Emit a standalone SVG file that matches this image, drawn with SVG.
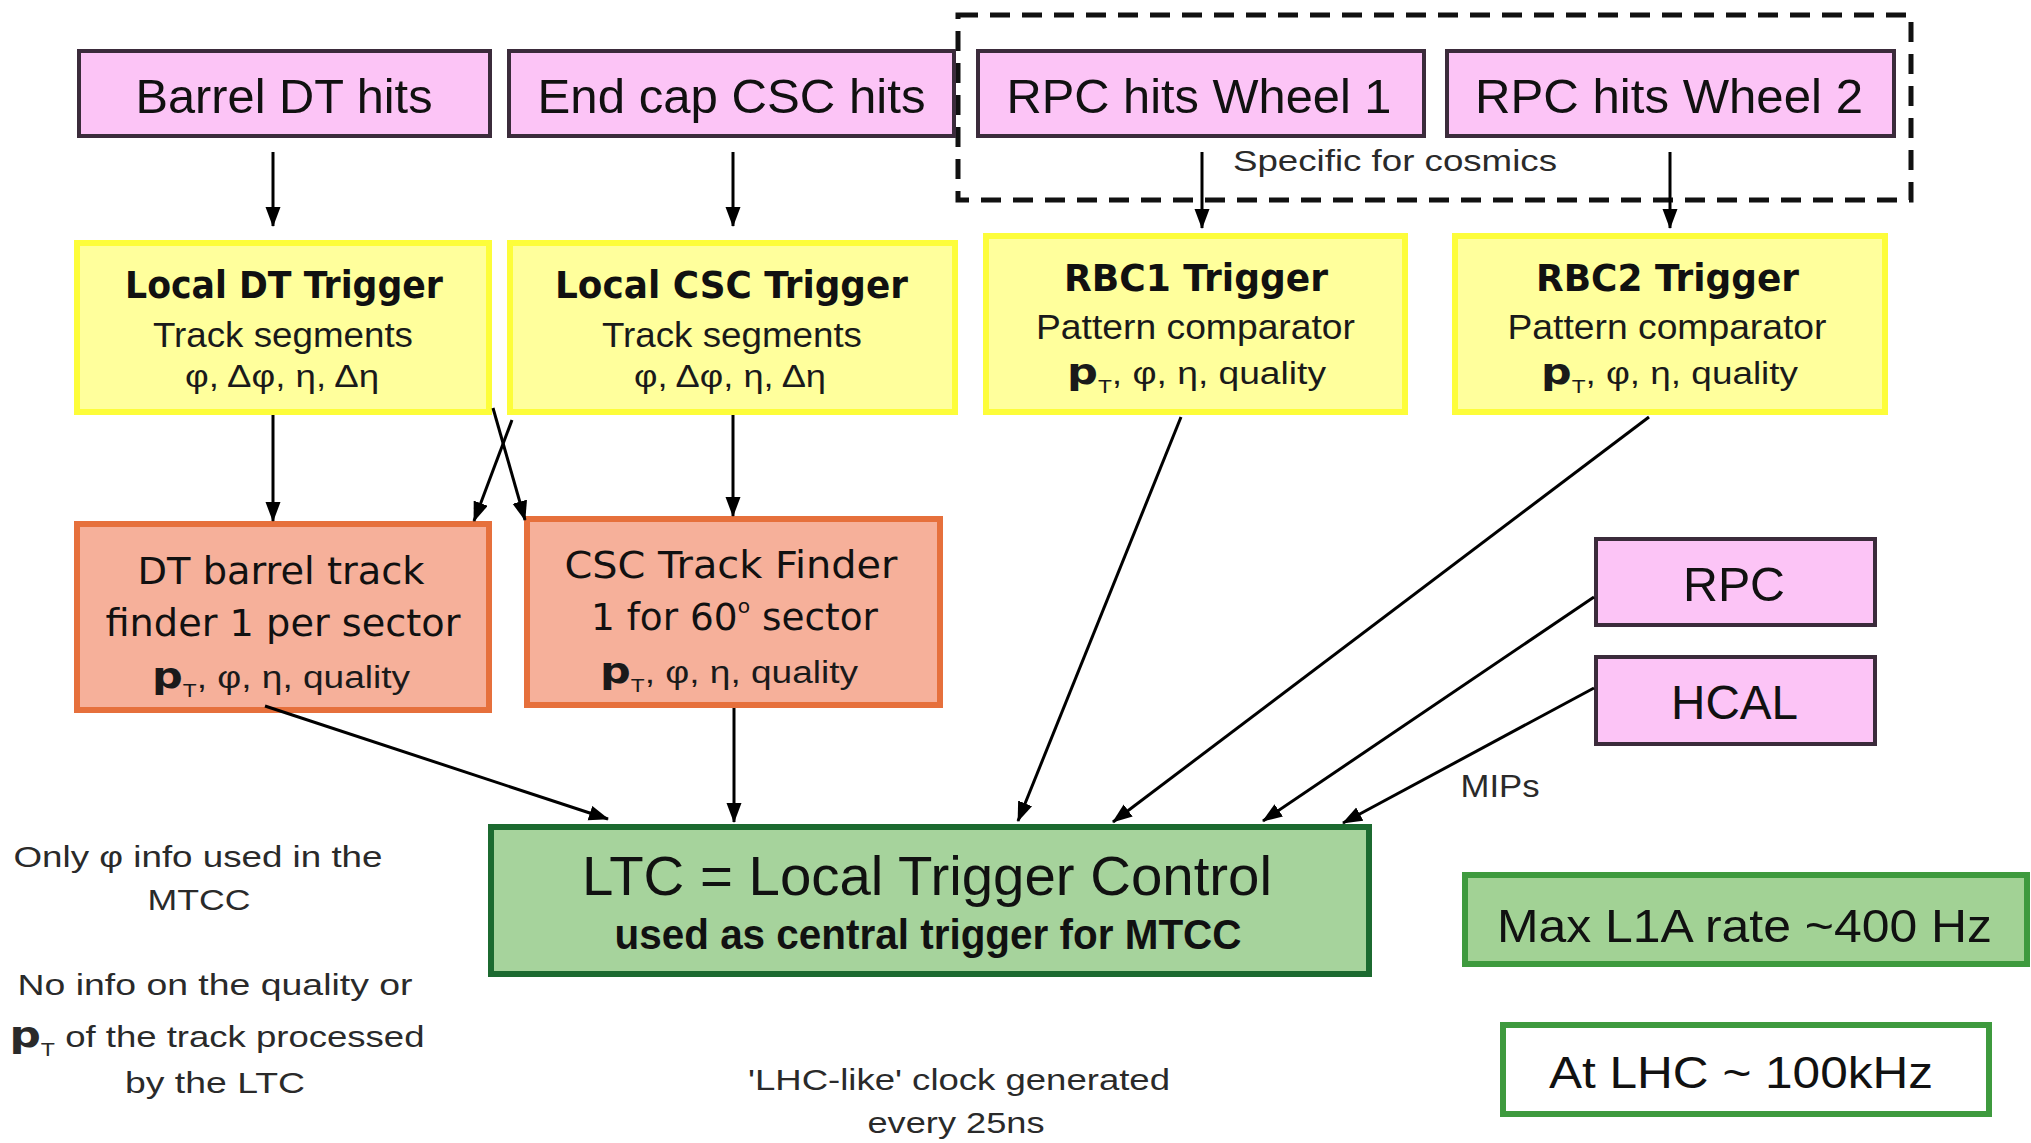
<svg xmlns="http://www.w3.org/2000/svg" width="2031" height="1143" viewBox="0 0 2031 1143">
  <style>
    .hits { fill: #fcc4f6; stroke: #3b2b3b; stroke-width: 4; }
    .lt { fill: #ffff9c; stroke: #fdfd3a; stroke-width: 6; }
    .tf { fill: #f6b09a; stroke: #e6703c; stroke-width: 6; }
    .ltc { fill: #a6d39c; stroke: #1c6a30; stroke-width: 6; }
    .rate { fill: #a2d295; stroke: #3e9a3e; stroke-width: 6; }
    .lhc { fill: #ffffff; stroke: #3e9a3e; stroke-width: 6; }
    .cosmic { fill: none; stroke: #111; stroke-width: 5; stroke-dasharray: 20 12; }
    text { fill: #111; text-anchor: middle; font-family: "Liberation Sans", Arial, sans-serif; }
    .big { font-size: 49px; }
    .ttl { font-family: "DejaVu Sans", Verdana, sans-serif; font-size: 37px; font-weight: bold; }
    .sub { font-size: 35px; fill: #1a1a1a; }
    .val { font-size: 31px; fill: #1a1a1a; }
    .fnd { font-family: "DejaVu Sans", Verdana, sans-serif; font-size: 37px; }
    .note { font-size: 30px; fill: #2a2a2a; }
    .pb { font-family: "DejaVu Sans", Verdana, sans-serif; font-weight: bold; font-size: 36px; }
    .ps { font-size: 19px; }
    .conn line { stroke: #000; stroke-width: 3; marker-end: url(#head); }
  </style>
  <defs>
    <marker id="head" markerUnits="userSpaceOnUse" markerWidth="22" markerHeight="16" refX="19" refY="7.5" orient="auto">
      <path d="M0,0 L20,7.5 L0,15 z" fill="#000"/>
    </marker>
  </defs>

  <rect width="2031" height="1143" fill="#ffffff"/>

  <!-- cosmics-only region -->
  <g id="cosmics-region">
    <rect class="cosmic" x="958" y="15" width="953" height="185"/>
    <text class="note" x="1395" y="171" textLength="324" lengthAdjust="spacingAndGlyphs">Specific for cosmics</text>
  </g>

  <!-- hit sources -->
  <g id="barrel-dt-hits">
    <rect class="hits" x="79" y="51" width="411" height="85"/>
    <text class="big" x="284" y="113" textLength="297" lengthAdjust="spacingAndGlyphs">Barrel DT hits</text>
  </g>
  <g id="endcap-csc-hits">
    <rect class="hits" x="509" y="51" width="445" height="85"/>
    <text class="big" x="731.5" y="113" textLength="388" lengthAdjust="spacingAndGlyphs">End cap CSC hits</text>
  </g>
  <g id="rpc-wheel1">
    <rect class="hits" x="978" y="51" width="446" height="85"/>
    <text class="big" x="1199" y="113" textLength="385" lengthAdjust="spacingAndGlyphs">RPC hits Wheel 1</text>
  </g>
  <g id="rpc-wheel2">
    <rect class="hits" x="1447" y="51" width="447" height="85"/>
    <text class="big" x="1669" y="113" textLength="388" lengthAdjust="spacingAndGlyphs">RPC hits Wheel 2</text>
  </g>

  <!-- local triggers -->
  <g id="local-dt-trigger">
    <rect class="lt" x="77" y="243" width="412" height="169"/>
    <text class="ttl" x="284" y="298" textLength="318" lengthAdjust="spacingAndGlyphs">Local DT Trigger</text>
    <text class="sub" x="283" y="347" textLength="260" lengthAdjust="spacingAndGlyphs">Track segments</text>
    <text class="val" x="282" y="387" textLength="194" lengthAdjust="spacingAndGlyphs">φ, Δφ, η, Δη</text>
  </g>
  <g id="local-csc-trigger">
    <rect class="lt" x="510" y="243" width="445" height="169"/>
    <text class="ttl" x="731.5" y="298" textLength="353" lengthAdjust="spacingAndGlyphs">Local CSC Trigger</text>
    <text class="sub" x="732" y="347" textLength="260" lengthAdjust="spacingAndGlyphs">Track segments</text>
    <text class="val" x="730" y="387" textLength="192" lengthAdjust="spacingAndGlyphs">φ, Δφ, η, Δη</text>
  </g>
  <g id="rbc1-trigger">
    <rect class="lt" x="986" y="236" width="419" height="176"/>
    <text class="ttl" x="1196" y="291" textLength="264" lengthAdjust="spacingAndGlyphs">RBC1 Trigger</text>
    <text class="sub" x="1195.5" y="339" textLength="319" lengthAdjust="spacingAndGlyphs">Pattern comparator</text>
    <text class="val" x="1196.5" y="384" textLength="259" lengthAdjust="spacingAndGlyphs"><tspan class="pb">p</tspan><tspan class="ps" dy="9">T</tspan><tspan dy="-9">, φ, η, quality</tspan></text>
  </g>
  <g id="rbc2-trigger">
    <rect class="lt" x="1455" y="236" width="430" height="176"/>
    <text class="ttl" x="1667.5" y="291" textLength="263" lengthAdjust="spacingAndGlyphs">RBC2 Trigger</text>
    <text class="sub" x="1667" y="339" textLength="319" lengthAdjust="spacingAndGlyphs">Pattern comparator</text>
    <text class="val" x="1669.5" y="384" textLength="257" lengthAdjust="spacingAndGlyphs"><tspan class="pb">p</tspan><tspan class="ps" dy="9">T</tspan><tspan dy="-9">, φ, η, quality</tspan></text>
  </g>

  <!-- track finders -->
  <g id="dt-track-finder">
    <rect class="tf" x="77" y="524" width="412" height="186"/>
    <text class="fnd" x="281" y="584" textLength="287" lengthAdjust="spacingAndGlyphs">DT barrel track</text>
    <text class="fnd" x="283" y="636" textLength="355" lengthAdjust="spacingAndGlyphs">finder 1 per sector</text>
    <text class="val" x="281" y="688" textLength="258" lengthAdjust="spacingAndGlyphs"><tspan class="pb">p</tspan><tspan class="ps" dy="9">T</tspan><tspan dy="-9">, φ, η, quality</tspan></text>
  </g>
  <g id="csc-track-finder">
    <rect class="tf" x="527" y="519" width="413" height="186"/>
    <text class="fnd" x="731" y="578" textLength="333" lengthAdjust="spacingAndGlyphs">CSC Track Finder</text>
    <text class="fnd" x="734.5" y="630" textLength="287" lengthAdjust="spacingAndGlyphs">1 for 60<tspan style="font-size:20px" dy="-17">o</tspan><tspan dy="17"> sector</tspan></text>
    <text class="val" x="729" y="683" textLength="258" lengthAdjust="spacingAndGlyphs"><tspan class="pb">p</tspan><tspan class="ps" dy="9">T</tspan><tspan dy="-9">, φ, η, quality</tspan></text>
  </g>

  <!-- extra inputs -->
  <g id="rpc">
    <rect class="hits" x="1596" y="539" width="279" height="86"/>
    <text x="1734" y="601" style="font-size:48px" textLength="102" lengthAdjust="spacingAndGlyphs">RPC</text>
  </g>
  <g id="hcal">
    <rect class="hits" x="1596" y="657" width="279" height="87"/>
    <text x="1734.5" y="719" style="font-size:48px" textLength="127" lengthAdjust="spacingAndGlyphs">HCAL</text>
  </g>
  <text x="1500" y="797" style="font-size:32px;fill:#2a2a2a" textLength="79" lengthAdjust="spacingAndGlyphs">MIPs</text>

  <!-- central trigger -->
  <g id="ltc">
    <rect class="ltc" x="491" y="827" width="878" height="147"/>
    <text x="927" y="895" style="font-size:56px" textLength="690" lengthAdjust="spacingAndGlyphs">LTC = Local Trigger Control</text>
    <text x="928" y="949" style="font-size:42px;font-weight:bold" textLength="627" lengthAdjust="spacingAndGlyphs">used as central trigger for MTCC</text>
  </g>

  <!-- rates -->
  <g id="max-rate">
    <rect class="rate" x="1465" y="875" width="562" height="89"/>
    <text x="1744.5" y="942" style="font-size:47px" textLength="495" lengthAdjust="spacingAndGlyphs">Max L1A rate ~400 Hz</text>
  </g>
  <g id="lhc-rate">
    <rect class="lhc" x="1503" y="1025" width="486" height="89"/>
    <text x="1741" y="1088" style="font-size:44px" textLength="384" lengthAdjust="spacingAndGlyphs">At LHC ~ 100kHz</text>
  </g>

  <!-- notes -->
  <g id="notes">
    <text class="note" x="198" y="867" textLength="369" lengthAdjust="spacingAndGlyphs">Only φ info used in the</text>
    <text class="note" x="199" y="910" textLength="103" lengthAdjust="spacingAndGlyphs">MTCC</text>
    <text class="note" x="215" y="995" textLength="395" lengthAdjust="spacingAndGlyphs">No info on the quality or</text>
    <text class="note" x="217" y="1047" textLength="415" lengthAdjust="spacingAndGlyphs"><tspan class="pb">p</tspan><tspan class="ps" dy="9">T</tspan><tspan dy="-9"> of the track processed</tspan></text>
    <text class="note" x="215" y="1093" textLength="180" lengthAdjust="spacingAndGlyphs">by the LTC</text>
    <text class="note" x="959" y="1090" textLength="422" lengthAdjust="spacingAndGlyphs">'LHC-like' clock generated</text>
    <text class="note" x="956" y="1133" textLength="177" lengthAdjust="spacingAndGlyphs">every 25ns</text>
  </g>

  <!-- connectors -->
  <g id="connectors" class="conn">
    <line x1="273" y1="152" x2="273" y2="226"/>
    <line x1="733" y1="152" x2="733" y2="226"/>
    <line x1="1202" y1="152" x2="1202" y2="228"/>
    <line x1="1670" y1="152" x2="1670" y2="228"/>
    <line x1="273" y1="415" x2="273" y2="521"/>
    <line x1="733" y1="415" x2="733" y2="516"/>
    <line x1="493" y1="408" x2="525" y2="520"/>
    <line x1="512" y1="420" x2="474" y2="521"/>
    <line x1="265" y1="706" x2="608" y2="819"/>
    <line x1="734" y1="708" x2="734" y2="822"/>
    <line x1="1181" y1="417" x2="1018" y2="821"/>
    <line x1="1649" y1="417" x2="1113" y2="822"/>
    <line x1="1594" y1="597" x2="1263" y2="821"/>
    <line x1="1594" y1="688" x2="1343" y2="823"/>
  </g>
</svg>
